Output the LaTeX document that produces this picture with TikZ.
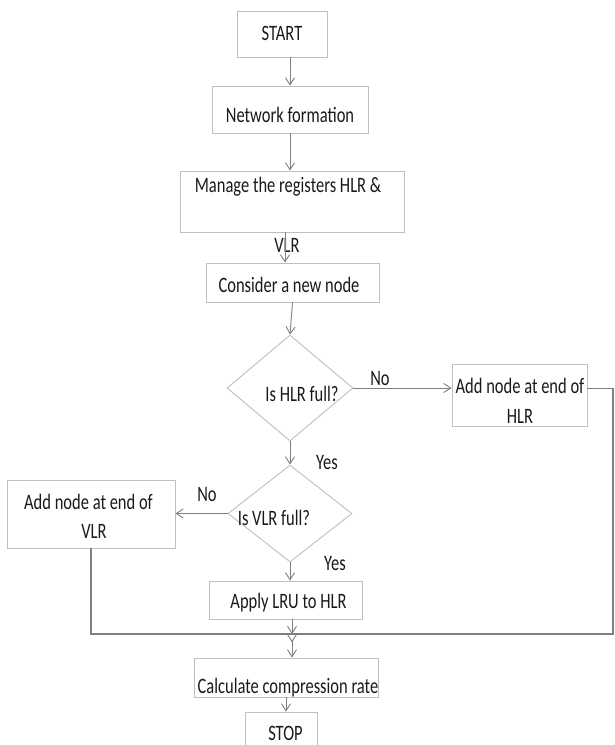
\documentclass[tikz,border=0pt]{standalone}
\usepackage{fontspec}
\setmainfont[FakeStretch=0.75]{Carlito}
\usetikzlibrary{arrows.meta,shapes.geometric}
\definecolor{boxc}{HTML}{BFBFBF}
\definecolor{linec}{HTML}{7F7F7F}
\definecolor{txtc}{HTML}{1A1A1A}
\begin{document}
\begin{tikzpicture}[x=1pt,y=-1pt,
  box/.style={draw=boxc,line width=0.9pt,inner sep=0pt},
  dia/.style={diamond,draw=boxc,line width=0.9pt,inner sep=0pt},
  lbl/.style={text=txtc,font=\fontsize{22}{29}\selectfont,inner sep=0pt,anchor=base},
  arr/.style={draw=linec,line width=0.9pt,-{Straight Barb[length=7pt,width=9pt]}},
  thinln/.style={draw=linec,line width=1pt},
  loopln/.style={draw=linec,line width=2pt}]
\useasboundingbox (0,0) rectangle (614,745);
\fill[white] (0,0) rectangle (614,745);
\clip (0,0) rectangle (614,745);
% boxes
\node[box,minimum width=90pt,minimum height=46pt] (start) at (282,34) {};
\node[box,minimum width=156pt,minimum height=47pt] (net) at (290,109.5) {};
\node[box,minimum width=224pt,minimum height=61pt] (manage) at (292,201.5) {};
\node[box,minimum width=173pt,minimum height=39pt] (consider) at (292.5,282.5) {};
\node[dia,minimum width=126pt,minimum height=106pt] (hlr) at (290,388) {};
\node[box,minimum width=135pt,minimum height=62pt] (addhlr) at (519.5,395) {};
\node[dia,minimum width=124pt,minimum height=97pt] (vlr) at (290,513.5) {};
\node[box,minimum width=168pt,minimum height=68pt] (addvlr) at (91,514) {};
\node[box,minimum width=153pt,minimum height=38pt] (apply) at (285.5,600) {};
\node[box,minimum width=184pt,minimum height=39pt] (calc) at (286,677.5) {};
\node[box,minimum width=72pt,minimum height=60pt] (stop) at (281,742) {};
% texts
\node[lbl] (tstart) at (282,40) {START};
\node[lbl] (tnet) at (290,122) {Network formation};
\node[lbl] (tmanage) at (288,192) {Manage the registers HLR \&};
\node[lbl] (tmanage2) at (287,252) {VLR};
\node[lbl] (tconsider) at (289,292) {Consider a new node};
\node[lbl] (thlr) at (302,401) {Is HLR full?};
\node[lbl] (taddhlr) at (520,393) {Add node at end of};
\node[lbl] (taddhlr2) at (520,423) {HLR};
\node[lbl] (tvlr) at (274,525) {Is VLR full?};
\node[lbl] (taddvlr) at (88.5,509) {Add node at end of};
\node[lbl] (taddvlr2) at (94,538) {VLR};
\node[lbl] (tapply) at (288.5,608) {Apply LRU to HLR};
\node[lbl] (tcalc) at (288,693) {Calculate compression rate};
\node[lbl] (tstop) at (285.5,740) {STOP};
\node[lbl] (no1) at (380,385) {No};
\node[lbl] (yes1) at (327,469) {Yes};
\node[lbl] (no2) at (207,501) {No};
\node[lbl] (yes2) at (335,570) {Yes};
% corners
\coordinate (c1) at (613,388);
\coordinate (c2) at (613,634);
\coordinate (j) at (292,634);
% connectors
\draw[arr] (start.south -| net.north) -- (net.north);
\draw[arr] (net.south) -- (net.south |- manage.north);
\draw[arr] ([xshift=-7pt]manage.south) -- ([xshift=-7pt]manage.south |- consider.north);
\draw[arr] (consider.south) -- (hlr.north);
\draw[arr] (hlr.east) -- (addhlr.west |- hlr.east);
\draw[thinln] (addhlr.east |- hlr.east) -- (c1);
\draw[loopln] (c1) -- (c2) -- (addvlr.south |- c2) -- (addvlr.south);
\draw[arr] (hlr.south) -- (vlr.north);
\draw[arr] (vlr.west) -- (addvlr.east |- vlr.west);
\draw[arr] (vlr.south) -- (vlr.south |- apply.north);
\draw[arr] (j |- apply.south) -- (j);
\draw[draw=linec,line width=0.9pt,{Straight Barb[length=7pt,width=9pt,reversed]}-{Straight Barb[length=7pt,width=9pt]}] (j) -- (j |- calc.north);
\draw[arr] (calc.south) -- (calc.south |- stop.north);
\end{tikzpicture}
\end{document}
